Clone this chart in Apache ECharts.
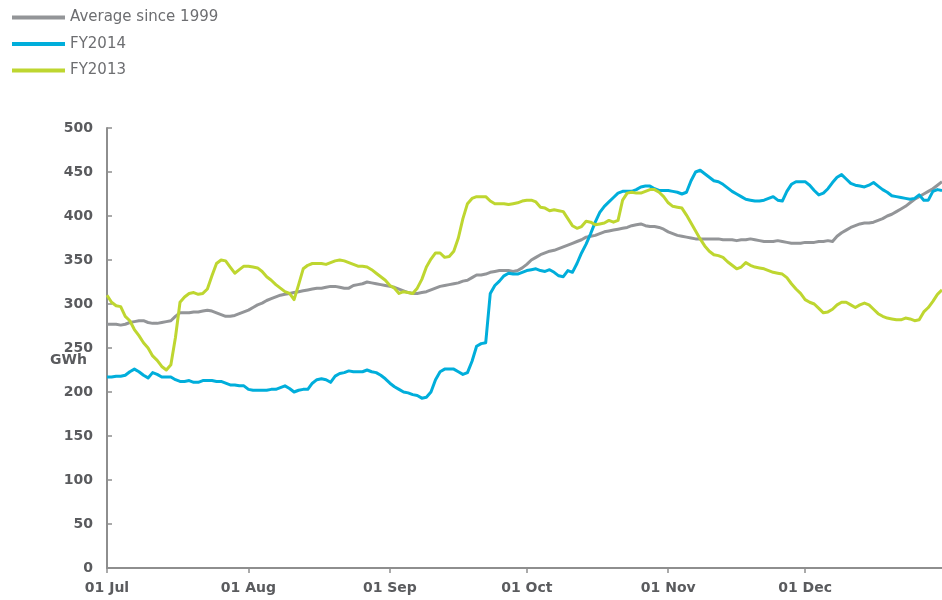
<!DOCTYPE html>
<html>
<head>
<meta charset="utf-8">
<script src="https://cdn.jsdelivr.net/npm/echarts@6/dist/echarts.min.js"></script>
<style>
html,body{margin:0;padding:0;background:#fff;}
#chart{width:942px;height:600px;}
</style>
</head>
<body>
<div id="chart"></div>
<script>
// Category (day) construction: Jul 1 .. Dec 31
const months = ['Jul','Aug','Sep','Oct','Nov','Dec'];
const monthDays = [31,31,30,31,30,31];
const yTicks = [0,50,100,150,200,250,300,350,400,450,500];
const seriesNames = ['Average since 1999','FY2014','FY2013'];

const average = [
277,277,277,276,277,279,280,281,281,279,
278,278,279,280,281,286,290,290,290,291,
291,292,293,292,290,288,286,286,287,289,
291,293,296,299,301,304,306,308,310,311,
312,313,314,315,316,317,318,318,319,320,
320,319,318,318,321,322,323,325,324,323,
322,321,320,319,317,315,313,312,312,313,
314,316,318,320,321,322,323,324,326,327,
330,333,333,334,336,337,338,338,338,337,
338,341,345,350,353,356,358,360,361,363,
365,367,369,371,373,376,377,378,380,382,
383,384,385,386,387,389,390,391,389,388,
388,387,385,382,380,378,377,376,375,374,
374,374,374,374,374,373,373,373,372,373,
373,374,373,372,371,371,371,372,371,370,
369,369,369,370,370,370,371,371,372,371,
377,381,384,387,389,391,392,392,393,395,
397,400,402,405,408,411,415,419,422,425,
428,431,435,439
];

const fy2014 = [
217,217,218,218,219,223,226,223,219,216,
222,220,217,217,217,214,212,212,213,211,
211,213,213,213,212,212,210,208,208,207,
207,203,202,202,202,202,203,203,205,207,
204,200,202,203,203,210,214,215,214,211,
218,221,222,224,223,223,223,225,223,222,
219,215,210,206,203,200,199,197,196,193,
194,200,214,223,226,226,226,223,220,222,
235,252,255,256,312,321,326,332,335,334,
334,336,338,339,340,338,337,339,336,332,
331,338,336,346,358,368,380,393,404,411,
416,421,426,428,428,428,430,433,434,434,
431,429,429,429,428,427,425,427,440,450,
452,448,444,440,439,436,432,428,425,422,
419,418,417,417,418,420,422,418,417,428,
436,439,439,439,435,429,424,426,431,438,
444,447,442,437,435,434,433,435,438,434,
430,427,423,422,421,420,419,420,424,418,
418,428,430,429
];

const fy2013 = [
310,302,298,297,286,281,271,264,256,250,
241,236,229,225,231,262,302,308,312,313,
311,312,317,332,346,350,349,342,335,339,
343,343,342,341,337,331,327,322,318,314,
312,305,322,340,344,346,346,346,345,347,
349,350,349,347,345,343,343,342,339,335,
331,327,321,318,312,314,313,312,318,328,
342,351,358,358,353,354,360,375,397,414,
420,422,422,422,417,414,414,414,413,414,
415,417,418,418,416,410,409,406,407,406,
405,397,389,386,388,394,393,390,391,392,
395,393,395,418,426,427,426,426,428,430,
430,427,422,415,411,410,409,401,392,383,
374,366,360,356,355,353,348,344,340,342,
347,344,342,341,340,338,336,335,334,330,
323,317,312,305,302,300,295,290,291,294,
299,302,302,299,296,299,301,299,294,289,
286,284,283,282,282,284,283,281,282,291,
296,303,311,316
];

const categories = [];
months.forEach(function(m, i){
  for (let d = 1; d <= monthDays[i]; d++) {
    categories.push((d < 10 ? '0' + d : '' + d) + ' ' + m);
  }
});

const FONT = 'DejaVu Sans';
const colors = ['#939598', '#00aedb', '#bed630'];
const isMonthStart = function(idx, val){ return String(val).indexOf('01 ') === 0; };

const chart = echarts.init(document.getElementById('chart'), null, {renderer:'canvas'});
chart.setOption({
  animation: false,
  backgroundColor: '#ffffff',
  color: colors,
  grid: {left: 107, right: 0, top: 128, bottom: 32, containLabel: false},
  legend: {
    orient: 'vertical',
    left: 12, top: 10,
    padding: 0,
    itemWidth: 53, itemHeight: 14, itemGap: 11.5,
    icon: 'path://M0,0 L53,0 L53,4 L0,4 Z',
    data: seriesNames,
    textStyle: {fontFamily: FONT, fontSize: 15, color: '#6d6e71', padding: [0,0,0,0]},
    selectedMode: false
  },
  xAxis: {
    type: 'category',
    boundaryGap: false,
    data: categories,
    axisLine: {show: true, lineStyle: {color: '#8e8e8e', width: 2}},
    axisTick: {show: true, interval: isMonthStart, length: 5, lineStyle: {color: '#8e8e8e', width: 1.5}},
    axisLabel: {interval: isMonthStart, fontFamily: FONT, fontSize: 14, fontWeight: 'bold', color: '#5a5b5e', margin: 13},
    splitLine: {show: false}
  },
  yAxis: {
    type: 'value',
    min: yTicks[0], max: yTicks[yTicks.length-1], interval: 50,
    axisLine: {show: true, lineStyle: {color: '#8e8e8e', width: 2}},
    axisTick: {show: true, inside: true, length: 5, lineStyle: {color: '#8e8e8e', width: 1.5}},
    axisLabel: {fontFamily: FONT, fontSize: 14, fontWeight: 'bold', color: '#5a5b5e', margin: 14},
    splitLine: {show: false}
  },
  graphic: [{
    type: 'text',
    left: 50, top: 353,
    style: {text: 'GWh', fontFamily: FONT, fontSize: 14, fontWeight: 'bold', fill: '#5a5b5e'}
  }],
  series: [
    {name: seriesNames[0], type: 'line', data: average, symbol: 'none', lineStyle: {width: 3, color: colors[0], join: 'round'}, itemStyle:{color: colors[0]}, z: 2},
    {name: seriesNames[1], type: 'line', data: fy2014, symbol: 'none', lineStyle: {width: 3, color: colors[1], join: 'round'}, itemStyle:{color: colors[1]}, z: 3},
    {name: seriesNames[2], type: 'line', data: fy2013, symbol: 'none', lineStyle: {width: 3, color: colors[2], join: 'round'}, itemStyle:{color: colors[2]}, z: 4}
  ]
});
</script>
</body>
</html>
